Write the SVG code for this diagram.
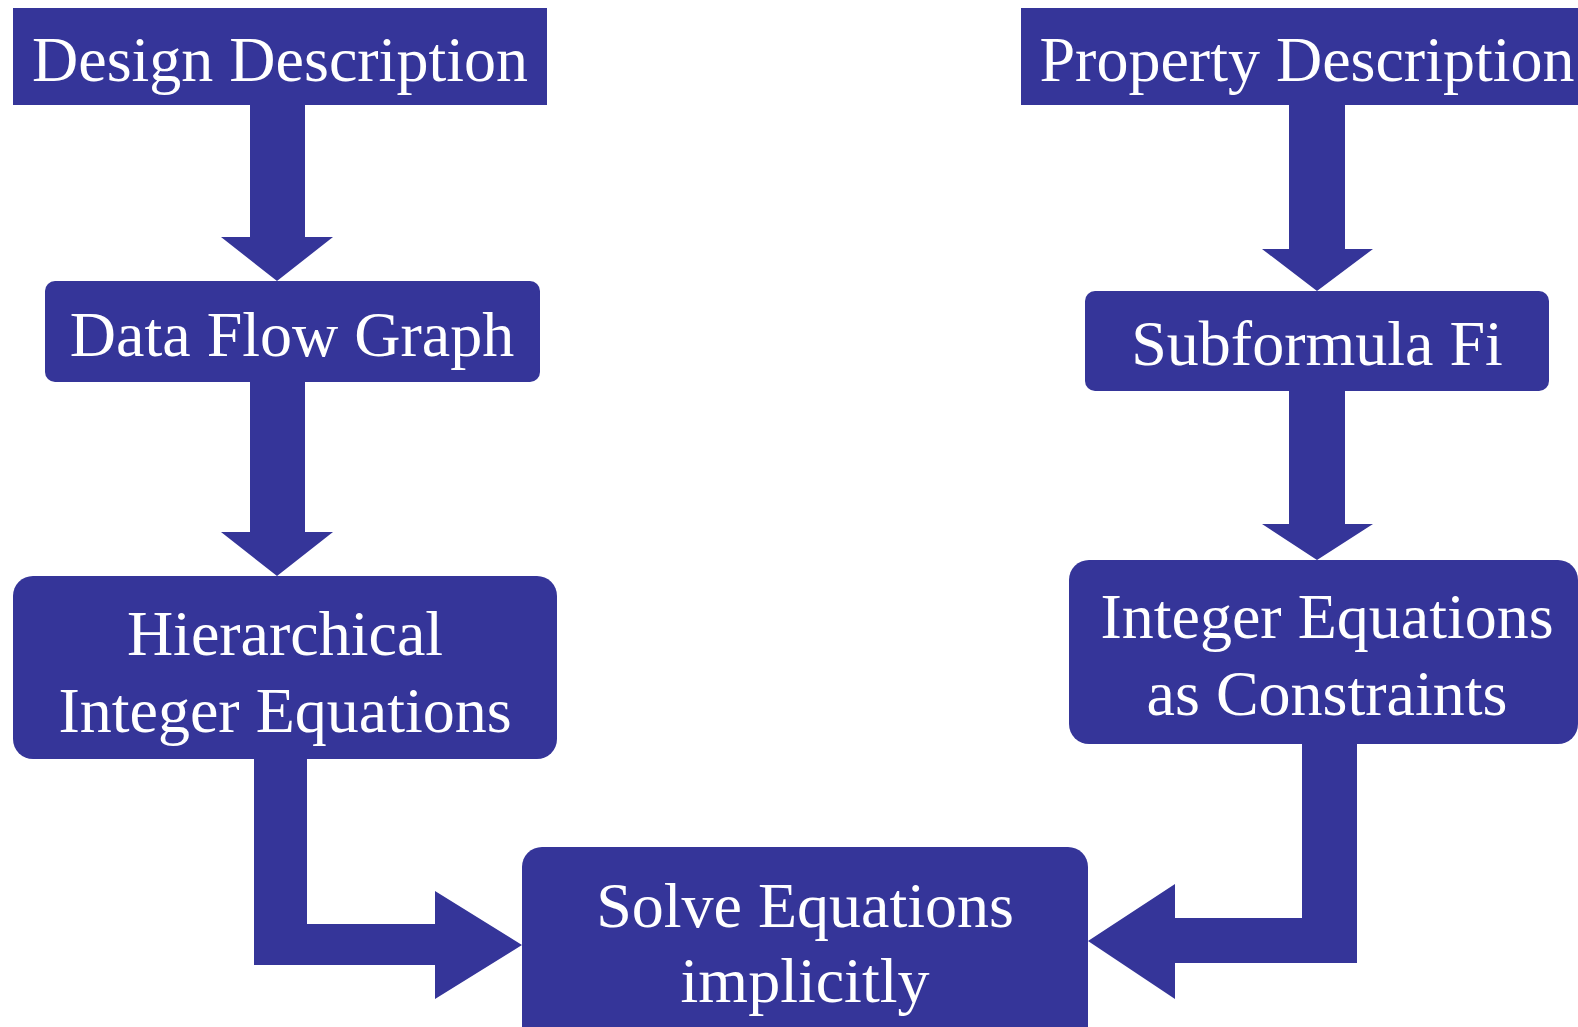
<svg xmlns="http://www.w3.org/2000/svg" width="1578" height="1027" viewBox="0 0 1578 1027">
<style>
.box{fill:#353599}
.arr{fill:#353599}
text{font-family:"Liberation Serif","Times New Roman",serif;font-size:64px;fill:#ffffff;text-anchor:middle}
</style>
<rect width="1578" height="1027" fill="#ffffff"/>
<g id="connectors">
<polygon class="arr" points="250,105 305,105 305,237 333,237 277,281 221,237 250,237"/>
<polygon class="arr" points="250,382 305,382 305,532 333,532 277,576 221,532 250,532"/>
<polygon class="arr" points="1289,105 1345,105 1345,249 1373,249 1317,291 1262,249 1289,249"/>
<polygon class="arr" points="1289,391 1345,391 1345,524 1373,524 1317,560 1262,524 1289,524"/>
<polygon class="arr" points="254,759 307,759 307,924 435,924 435,891 522,945 435,999 435,965 254,965"/>
<polygon class="arr" points="1302,744 1357,744 1357,963 1175,963 1175,999 1088,941 1175,884 1175,918 1302,918"/>
</g>
<g id="design">
<rect class="box" x="13" y="8" width="534" height="97"/>
<text x="280" y="81">Design Description</text>
</g>
<g id="property">
<rect class="box" x="1021" y="8" width="570" height="97"/>
<text x="1307" y="81">Property Description</text>
</g>
<g id="dfg">
<rect class="box" x="45" y="281" width="495" height="101" rx="10"/>
<text x="292" y="356">Data Flow Graph</text>
</g>
<g id="subformula">
<rect class="box" x="1085" y="291" width="464" height="100" rx="10"/>
<text x="1317" y="365">Subformula Fi</text>
</g>
<g id="hier">
<rect class="box" x="13" y="576" width="544" height="183" rx="20"/>
<text x="285" y="655">Hierarchical</text>
<text x="285" y="732">Integer Equations</text>
</g>
<g id="constraints">
<rect class="box" x="1069" y="560" width="509" height="184" rx="20"/>
<text x="1327" y="638">Integer Equations</text>
<text x="1327" y="715">as Constraints</text>
</g>
<g id="solve">
<rect class="box" x="522" y="847" width="566" height="200" rx="20"/>
<text x="805" y="927">Solve Equations</text>
<text x="805" y="1002">implicitly</text>
</g>
</svg>
